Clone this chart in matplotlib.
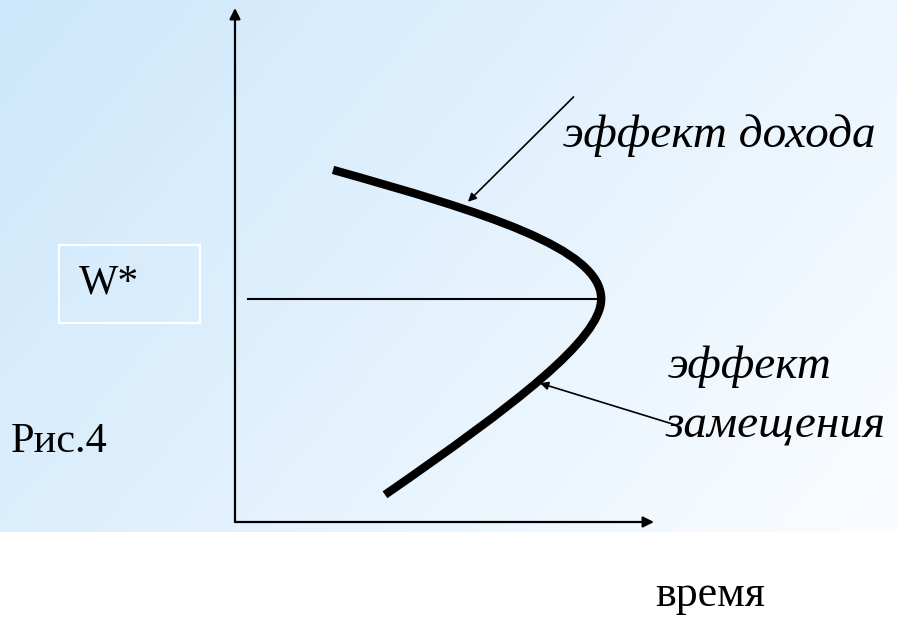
import numpy as np
import matplotlib.pyplot as plt
from matplotlib.patches import Rectangle, PathPatch
from matplotlib.path import Path

# Кривая предложения труда: опорные точки кривой Безье (часы, ставка)
upper_branch = [(2.34, 6.85), (5.92, 6.03), (8.74, 5.33), (8.74, 4.34)]
lower_branch = [(8.74, 4.34), (8.74, 3.56), (6.68, 2.28), (3.58, 0.53)]

w_star = 4.34
w_line_x = [0.31, 8.74]

# стрелки-подписи: (откуда, куда)
income_arrow = ((8.08, 8.27), (5.56, 6.23))
subst_arrow = ((10.55, 1.88), (7.28, 2.70))

W, H = 897, 617
fig = plt.figure(figsize=(W / 100, H / 100), dpi=100)

# Фон - голубой градиент
bg = fig.add_axes([0, 1 - 532 / H, 1, 532 / H])
u = np.linspace(0, 1, 300)[None, :]
v = np.linspace(0, 1, 200)[:, None]
t = np.clip(0.7 * u + 0.35 * v, 0, 1)
c0 = np.array([0.80, 0.905, 0.985])
c1 = np.array([0.975, 0.988, 1.0])
img = c0[None, None, :] * (1 - t[..., None]) + c1[None, None, :] * t[..., None]
bg.imshow(img, aspect="auto", extent=[0, 1, 1, 0])
bg.set_axis_off()

# Основная диаграмма
ax = fig.add_axes([235 / W, 1 - 522 / H, (654 - 235) / W, (522 - 8) / H])
ax.set_xlim(0, 10)
ax.set_ylim(0, 10)
ax.set_axis_off()
ax.patch.set_alpha(0)

arrow_kw = dict(arrowstyle="-|>", lw=1.6, color="black", mutation_scale=16,
                shrinkA=0, shrinkB=0)
ax.annotate("", xy=(0, 1), xytext=(0, 0), xycoords="axes fraction", arrowprops=arrow_kw)
ax.annotate("", xy=(1, 0), xytext=(0, 0), xycoords="axes fraction", arrowprops=arrow_kw)

verts = upper_branch + lower_branch[1:]
codes = [Path.MOVETO] + [Path.CURVE4] * 6
curve = PathPatch(Path(verts, codes), fill=False, edgecolor="black", lw=6, capstyle="butt")
ax.add_patch(curve)
ax.plot(w_line_x, [w_star, w_star], color="black", lw=1.5)

small_arrow = dict(arrowstyle="-|>", lw=1.2, color="black", mutation_scale=12,
                   shrinkA=0, shrinkB=0)
ax.annotate("", xy=income_arrow[1], xytext=income_arrow[0], arrowprops=small_arrow,
            annotation_clip=False)
ax.annotate("", xy=subst_arrow[1], xytext=subst_arrow[0], arrowprops=small_arrow,
            annotation_clip=False)

serif = "Liberation Serif"

def px(x, y):
    return x / W, 1 - y / H

fig.text(*px(563, 147), "эффект дохода", family=serif, style="italic", fontsize=34)
fig.text(*px(668, 378), "эффект", family=serif, style="italic", fontsize=34)
fig.text(*px(666, 437), "замещения", family=serif, style="italic", fontsize=34)
fig.text(*px(11, 452), "Рис.4", family=serif, fontsize=30.5)
fig.text(*px(655, 606), "время", family=serif, fontsize=31.5)

# Подпись W* в рамке
fig.patches.append(Rectangle(px(59, 323), 141 / W, 78 / H, transform=fig.transFigure,
                             fill=False, edgecolor="white", lw=1.5))
fig.text(*px(79, 293), "W*", family=serif, fontsize=30)

fig.savefig("out.png", dpi=100)
